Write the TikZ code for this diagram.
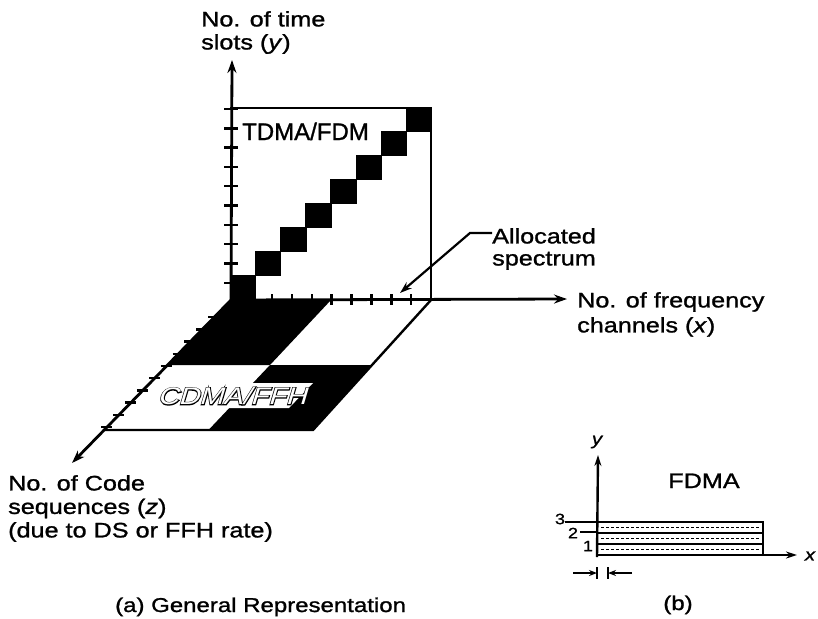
\documentclass[tikz,border=0pt]{standalone}
\usepackage{fontspec}
\setmainfont{Liberation Sans}[FakeStretch=1.2,FakeBold=1.2]
\newfontfamily\tdmafont{Liberation Sans}[FakeBold=1.2]
\newfontfamily\cdmaoutfont{Liberation Sans}[FakeStretch=1.2,FakeSlant=0.3,FakeBold=7]
\newfontfamily\cdmainfont{Liberation Sans}[FakeStretch=1.2,FakeSlant=0.3]
\usetikzlibrary{arrows.meta}
\tikzset{
  axisline/.style={line width=2.8pt,-{Stealth[length=13pt,width=9pt]}},
  smallaxis/.style={line width=2.4pt,-{Stealth[length=11pt,width=7pt]}},
  tickmark/.style={line width=2.4pt},
  frameline/.style={line width=2.4pt},
  lbl/.style={inner sep=0pt,align=left,anchor=north west},
  leader/.style={line width=2.2pt,-{Stealth[length=12pt,width=8pt]}},
}
\begin{document}
\begin{tikzpicture}[x=1pt,y=-1pt]
\useasboundingbox (0,0) rectangle (818,618);
% ---------- floor (CDMA plane) ----------
\coordinate (O) at (231,300);
\coordinate (X) at (431,300);
\coordinate (XZ) at (313,430);
\coordinate (Z) at (104,430);
\coordinate (TM) at (331,300);
\coordinate (RM) at (372,365);
\coordinate (BM) at (208.5,430);
\coordinate (LM) at (167.5,365);
\coordinate (C) at (270,365);
\fill[black] (O) -- (TM) -- (C) -- (LM) -- cycle;
\fill[black] (C) -- (RM) -- (XZ) -- (BM) -- cycle;
\fill[white] (175,383) -- (313,383) -- (289,408) -- (151,408) -- cycle;
\node[inner sep=0pt,font=\cdmaoutfont\fontsize{24}{24}\selectfont] (cdmaout) at (232,396) {CDMA/FFH};
\node[inner sep=0pt,font=\cdmainfont\fontsize{24}{24}\selectfont,text=white] (cdma) at (232,396) {CDMA/FFH};
\draw[frameline] (X) -- (XZ) -- (Z);
% ---------- TDMA box ----------
\coordinate (BT) at (230,108);
\coordinate (BR) at (431,108);
\foreach \i in {0,...,7}{
  \fill[black] (230+25.1*\i,300-24*\i) rectangle ++(26.3,-25);
}
\draw[frameline] (BT) -- (BR) -- (X);
\node[inner sep=0pt,anchor=base west,font=\tdmafont\fontsize{24}{24}\selectfont] (tdma) at (242,140) {TDMA/FDM};
% ---------- axes ----------
\coordinate (Ytip) at (232,60);
\coordinate (Xtip) at (567,299);
\coordinate (Ztip) at (72,463);
\draw[axisline] (O) -- (Ytip);
\draw[axisline] (O) -- (Xtip);
\draw[axisline] (O) -- (Ztip);
\foreach \k in {0,...,9}{
  \draw[tickmark] (224,109+19.3*\k) -- (238,109+19.3*\k);
}
\foreach \k in {0,...,8}{
  \draw[tickmark] (252+19.9*\k,294) -- (252+19.9*\k,305);
}
\foreach \k in {1,...,10}{
  \pgfmathsetmacro{\yy}{305+12.2*\k}
  \pgfmathsetmacro{\xx}{231-(\yy-300)*0.975}
  \draw[tickmark] (\xx-6,\yy) -- (\xx+5,\yy);
}
% ---------- labels ----------
\node[lbl,font=\fontsize{21}{23}\selectfont] (ylab) at (201,11) {No. of time\\slots (\textit{y})};
\node[lbl,font=\fontsize{21}{22}\selectfont] (alloc) at (492,228) {Allocated\\spectrum};
\coordinate (A1) at (470,233);
\coordinate (A2) at (400,293);
\draw[leader] (alloc.west |- 0,233) -- (A1) -- (A2);
\node[lbl,font=\fontsize{21}{25}\selectfont] (xlab) at (577,292) {No. of frequency\\channels (\textit{x})};
\node[lbl,font=\fontsize{21}{23.5}\selectfont] (zlab) at (8,475) {No. of Code\\sequences (\textit{z})\\(due to DS or FFH rate)};
\node[inner sep=0pt,anchor=base west,font=\fontsize{20}{20}\selectfont] (capa) at (115,612) {(a) General Representation};
% ---------- FDMA small diagram ----------
\coordinate (b0) at (597,555);
\coordinate (bytip) at (598,455);
\coordinate (bxtip) at (797,555);
\coordinate (r3) at (597,522);
\coordinate (r3e) at (763,522);
\coordinate (bxe) at (763,555);
\draw[line width=2.4pt,fill=white] (r3) rectangle (bxe);
\draw[line width=2pt] (597,533) -- (763,533);
\draw[line width=2pt] (597,544) -- (763,544);
\foreach \yy in {527.5,538.5,549.5}{
  \draw[line width=1pt,dash pattern=on 3pt off 2pt] (601,\yy) -- (760,\yy);
}
\draw[smallaxis] (597,557) -- (bytip);
\draw[smallaxis] (b0) -- (bxtip);
\node[inner sep=0pt,font=\itshape\fontsize{17}{17}\selectfont] (bylab) at (597,442) {y};
\node[inner sep=0pt,font=\itshape\fontsize{17}{17}\selectfont] (bxlab) at (810,556) {x};
\node[inner sep=0pt,font=\fontsize{21}{21}\selectfont,anchor=base] (fdma) at (704,488) {FDMA};
\node[inner sep=0pt,font=\fontsize{15}{15}\selectfont] (n3) at (560,519) {3};
\node[inner sep=0pt,font=\fontsize{15}{15}\selectfont] (n2) at (573,533) {2};
\node[inner sep=0pt,font=\fontsize{15}{15}\selectfont] (n1) at (588,546) {1};
\draw[line width=2pt] (n3.east |- r3) -- (r3);
\draw[line width=2pt] (580,532) -- (597,532);
\draw[line width=2pt,-{Stealth[length=8pt,width=6pt]}] (573,573) -- (597,573);
\draw[line width=2pt] (597,567) -- (597,579);
\draw[line width=2pt] (608,567) -- (608,579);
\draw[line width=2pt,-{Stealth[length=8pt,width=6pt]}] (632,573) -- (608,573);
\node[inner sep=0pt,anchor=base,font=\fontsize{20}{20}\selectfont] (capb) at (678,610) {(b)};
\end{tikzpicture}
\end{document}
